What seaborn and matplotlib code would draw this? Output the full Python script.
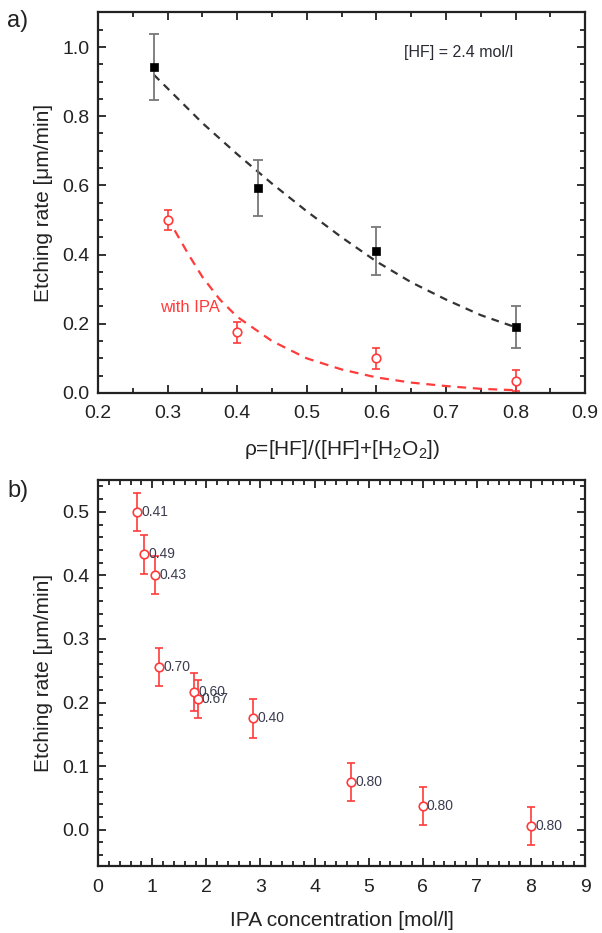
import matplotlib
matplotlib.use("Agg")
import matplotlib.pyplot as plt
import pandas as pd
import seaborn as sns
from matplotlib.ticker import MultipleLocator

# ---- panel a) data ----
rho_noipa = [0.28, 0.43, 0.60, 0.80]
rate_noipa = [0.943, 0.592, 0.41, 0.19]
err_noipa = [0.095, 0.08, 0.07, 0.06]

rho_ipa = [0.30, 0.40, 0.60, 0.80]
rate_ipa = [0.50, 0.175, 0.10, 0.035]
err_ipa = [0.03, 0.03, 0.03, 0.03]

# dashed guide curves
fit_noipa_x = [0.28, 0.30, 0.35, 0.40, 0.45, 0.50, 0.55, 0.60, 0.65, 0.70, 0.75, 0.80]
fit_noipa_y = [0.92, 0.88, 0.78, 0.69, 0.605, 0.525, 0.45, 0.38, 0.32, 0.27, 0.225, 0.19]
fit_ipa_x = [0.31, 0.33, 0.35, 0.375, 0.40, 0.45, 0.50, 0.55, 0.60, 0.65, 0.70, 0.75, 0.80]
fit_ipa_y = [0.47, 0.40, 0.335, 0.27, 0.22, 0.15, 0.10, 0.068, 0.045, 0.03, 0.02, 0.012, 0.008]

# ---- panel b) data ----
ipa_conc = [0.72, 0.85, 1.05, 1.13, 1.77, 1.84, 2.86, 4.67, 6.0, 8.0]
ipa_rate = [0.50, 0.433, 0.40, 0.256, 0.216, 0.205, 0.175, 0.075, 0.037, 0.006]
ipa_err = [0.03, 0.03, 0.03, 0.03, 0.03, 0.03, 0.03, 0.03, 0.03, 0.03]
ipa_rho_labels = ["0.41", "0.49", "0.43", "0.70", "0.60", "0.67", "0.40", "0.80", "0.80", "0.80"]

RED = "#ff3b3b"
DARK = "#222222"
sns.set_style("ticks")
plt.rcParams["font.family"] = ["Liberation Sans", "DejaVu Sans"]
plt.rcParams["axes.linewidth"] = 1.6


def style_axes(ax, xmaj, xmin, ymaj, ymin):
    ax.xaxis.set_major_locator(MultipleLocator(xmaj))
    ax.xaxis.set_minor_locator(MultipleLocator(xmin))
    ax.yaxis.set_major_locator(MultipleLocator(ymaj))
    ax.yaxis.set_minor_locator(MultipleLocator(ymin))
    ax.tick_params(which="both", direction="in", top=True, right=True,
                   width=1.3, colors=DARK, labelcolor=DARK, labelsize=14)
    ax.tick_params(which="major", length=6)
    ax.tick_params(which="minor", length=3.5)
    ax.tick_params(axis="x", which="major", pad=9)
    ax.tick_params(axis="y", which="major", pad=6)
    for s in ax.spines.values():
        s.set_color(DARK)


fig = plt.figure(figsize=(6.02, 9.33), dpi=100)
ax1 = fig.add_axes([0.163, 0.5788, 0.809, 0.4079])
ax2 = fig.add_axes([0.163, 0.0718, 0.809, 0.4137])

# ---- panel a) ----
df_fit1 = pd.DataFrame({"x": fit_noipa_x, "y": fit_noipa_y})
df_fit2 = pd.DataFrame({"x": fit_ipa_x, "y": fit_ipa_y})
sns.lineplot(data=df_fit1, x="x", y="y", ax=ax1, color="#333333",
             linestyle=(0, (3.5, 2.8)), linewidth=1.6, sort=False)
sns.lineplot(data=df_fit2, x="x", y="y", ax=ax1, color=RED,
             linestyle=(0, (4, 3)), linewidth=1.6, sort=False)

ax1.errorbar(rho_noipa, rate_noipa, yerr=err_noipa, fmt="none",
             ecolor="#777777", elinewidth=1.3, capsize=3.6, capthick=1.3)
ax1.errorbar(rho_ipa, rate_ipa, yerr=err_ipa, fmt="none",
             ecolor=RED, elinewidth=1.2, capsize=2.6, capthick=1.2)
sns.scatterplot(x=rho_noipa, y=rate_noipa, ax=ax1, marker="s", s=38,
                color="black", edgecolor="black", zorder=5)
sns.scatterplot(x=rho_ipa, y=rate_ipa, ax=ax1, marker="o", s=38,
                facecolor="white", edgecolor=RED, linewidth=1.2, zorder=5)

ax1.set_xlim(0.2, 0.9)
ax1.set_ylim(0.0, 1.1)
style_axes(ax1, 0.1, 0.05, 0.2, 0.05)
ax1.set_xlabel(r"ρ=[HF]/([HF]+[H$_\mathregular{2}$O$_\mathregular{2}$])",
               fontsize=15, color=DARK, labelpad=11)
ax1.set_ylabel("Etching rate [μm/min]", fontsize=15, color=DARK, labelpad=7)
ax1.text(0.64, 0.983, "[HF] = 2.4 mol/l", fontsize=11.5, color="#2a2a35",
         va="center", ha="left")
ax1.text(0.289, 0.246, "with IPA", fontsize=12, color=RED, va="center",
         ha="left")

# ---- panel b) ----
ax2.errorbar(ipa_conc, ipa_rate, yerr=ipa_err, fmt="none",
             ecolor=RED, elinewidth=1.2, capsize=2.6, capthick=1.2)
sns.scatterplot(x=ipa_conc, y=ipa_rate, ax=ax2, marker="o", s=38,
                facecolor="white", edgecolor=RED, linewidth=1.2, zorder=5)
for xv, yv, lab in zip(ipa_conc, ipa_rate, ipa_rho_labels):
    ax2.annotate(lab, (xv, yv), xytext=(3, 0), textcoords="offset points",
                 fontsize=10, color="#3c3c50", va="center", ha="left",
                 zorder=6)

ax2.set_xlim(0, 9)
ax2.set_ylim(-0.057, 0.55)
style_axes(ax2, 1, 0.2, 0.1, 0.02)
ax2.set_xlabel("IPA concentration [mol/l]", fontsize=15, color=DARK,
               labelpad=11)
ax2.set_ylabel("Etching rate [μm/min]", fontsize=15, color=DARK, labelpad=7)

fig.text(0.012, 0.9775, "a)", fontsize=17, color=DARK, va="center")
fig.text(0.012, 0.4737, "b)", fontsize=17, color=DARK, va="center")

fig.savefig("out.png", dpi=100)
